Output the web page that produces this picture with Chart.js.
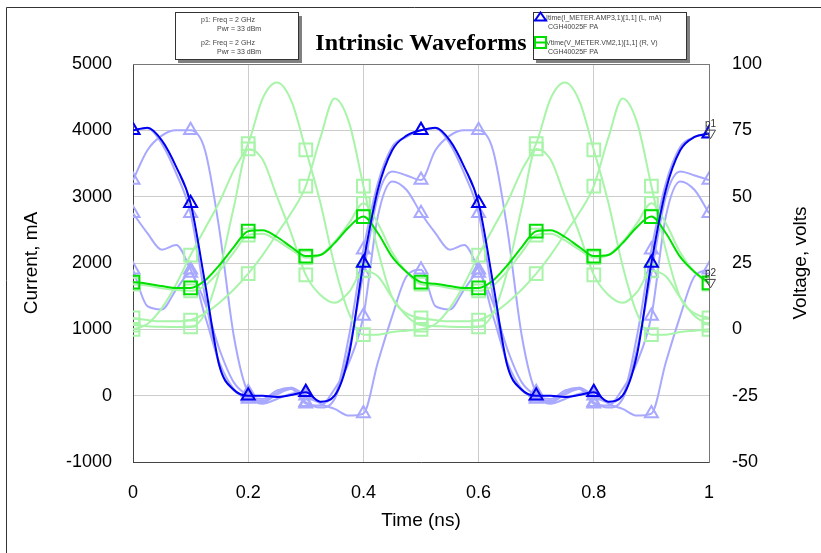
<!DOCTYPE html>
<html>
<head>
<meta charset="utf-8">
<script src="https://cdn.jsdelivr.net/npm/chart.js@4.4.1/dist/chart.umd.min.js"></script>
<style>
  html, body { margin: 0; padding: 0; background: #fff; }
  #wrap { position: relative; width: 821px; height: 553px; }
</style>
</head>
<body>
<div id="wrap"><canvas id="waveChart" width="821" height="553"></canvas></div>
<script>
// Time samples (ns), one every 0.025 ns; markers sit on every 4th sample
const timeNs = [0, 0.025, 0.05, 0.075, 0.1, 0.125, 0.15, 0.175, 0.2, 0.225, 0.25, 0.275, 0.3, 0.325, 0.35, 0.375, 0.4, 0.425, 0.45, 0.475, 0.5,
                0.525, 0.55, 0.575, 0.6, 0.625, 0.65, 0.675, 0.7, 0.725, 0.75, 0.775, 0.8, 0.825, 0.85, 0.875, 0.9, 0.925, 0.95, 0.975, 1];

// Drain current, mA (p1)
const currentMain = [4000, 4040, 3850, 3450, 2900, 1700, 450, 90, 0, 0, -20, 10, 50, -90, 0, 620, 2000, 3100, 3700, 3920, 4000,
                     4040, 3850, 3450, 2900, 1700, 450, 90, 0, 0, -20, 10, 50, -90, 0, 620, 2000, 3100, 3700, 3900, 3950];
// Drain voltage, V (p2)
const voltageMain = [17.8, 17.2, 16.3, 15.6, 15.6, 18.4, 24.2, 31, 37, 37.3, 34.8, 31, 27.6, 28, 32.5, 38.6, 42.5, 36.3, 27.3, 21.6, 17.8,
                     17.2, 16.3, 15.6, 15.6, 18.4, 24.2, 31, 37, 37.3, 34.8, 31, 27.6, 28, 32.5, 38.6, 42.5, 36.3, 27.3, 21.6, 17.5];

// Other sweep points, current (mA)
const currentSweepA = [3250, 3700, 3920, 4000, 4000, 3700, 2500, 900, 50, -80, 50, 120, -100, -180, -50, 700, 1850, 3000, 3380, 3320, 3250,
                       3700, 3920, 4000, 4000, 3700, 2500, 900, 50, -80, 50, 120, -100, -180, -50, 700, 1850, 3000, 3380, 3320, 3250];
const currentSweepB = [2750, 2450, 2200, 2270, 1900, 1400, 700, 200, 0, -100, 20, 100, -120, -150, 100, 500, 1200, 2700, 3230, 3100, 2750,
                       2450, 2200, 2270, 1900, 1400, 700, 200, 0, -100, 20, 100, -120, -150, 100, 500, 1200, 2700, 3230, 3100, 2750];
const currentSweepC = [4000, 4030, 3800, 3350, 2750, 1500, 450, 80, -20, -50, 80, 120, 0, -100, 0, 900, 2200, 3200, 3750, 3900, 4000,
                       4030, 3800, 3350, 2750, 1500, 450, 80, -20, -50, 80, 120, 0, -100, 0, 900, 2200, 3200, 3750, 3900, 3960];
const currentSweepD = [1900, 1350, 1300, 1600, 1850, 1200, 500, 100, -50, -120, -50, 30, 50, -120, -200, -300, -270, 500, 1200, 1800, 1900,
                       1350, 1300, 1600, 1850, 1200, 500, 100, -50, -120, -50, 30, 50, -120, -200, -300, -270, 500, 1200, 1800, 1900];

// Other sweep points, voltage (V)
const voltageSweepA = [17, 16.5, 15.5, 14.8, 14.5, 16.5, 22, 29, 35.5, 36, 33.5, 30, 27, 28, 33, 40, 47.5, 40, 29, 21.5, 17,
                       16.5, 15.5, 14.8, 14.5, 16.5, 22, 29, 35.5, 36, 33.5, 30, 27, 28, 33, 40, 47.5, 40, 29, 21.5, 17];
const voltageSweepB = [0, 2, 8, 17, 28, 38, 48, 60, 70, 87, 93, 86, 67.6, 48, 24, 6, -2, -2, -1, -0.5, 0,
                       2, 8, 17, 28, 38, 48, 60, 70, 87, 93, 86, 67.6, 48, 24, 6, -2, -2, -1, -0.5, 0];
const voltageSweepC = [4.3, 3.5, 3, 3, 3.5, 6, 10, 15, 21, 28, 36, 44, 54, 72, 87, 78, 54, 30, 12, 6, 4.3,
                       3.5, 3, 3, 3.5, 6, 10, 15, 21, 28, 36, 44, 54, 72, 87, 78, 54, 30, 12, 6, 4.3];
const voltageSweepD = [1.6, 1.2, 1, 0.9, 0.9, 6, 22, 46, 68, 64, 50, 36, 20.5, 13, 10, 14, 22, 20, 12, 5, 1.6,
                       1.2, 1, 0.9, 0.9, 6, 22, 46, 68, 64, 50, 36, 20.5, 13, 10, 14, 22, 20, 12, 5, 1.6];

const timeTicks = [0, 0.2, 0.4, 0.6, 0.8, 1];
const currentTicks = [-1000, 0, 1000, 2000, 3000, 4000, 5000];
const voltageTicks = [-50, -25, 0, 25, 50, 75, 100];

const BLUE = '#0000f0';
const GREEN = '#00e000';
const LIGHT_BLUE = '#a8a8ff';
const LIGHT_GREEN = '#a8f4a8';
const FONT = '"Liberation Sans", Arial, sans-serif';

function toPoints(values) {
    return values.map((v, i) => ({ x: timeNs[i], y: v }));
}

// marker only every 0.1 ns
function markerRadius(r) {
    return ctx => (ctx.dataIndex % 4 === 0 ? r : 0);
}

function series(values, axis, color, style, order) {
    return {
        data: toPoints(values),
        yAxisID: axis,
        borderColor: color,
        backgroundColor: 'transparent',
        borderWidth: 2,
        pointStyle: style,
        pointRadius: markerRadius(style === 'rect' ? 9 : 7.5),
        pointBorderWidth: 2,
        pointBorderColor: color,
        pointBackgroundColor: 'transparent',
        cubicInterpolationMode: 'monotone',
        fill: false,
        order: order,
    };
}

// Frame, legend boxes, title, axis titles and p1/p2 end markers
const decorations = {
    id: 'decorations',
    afterDraw(chart) {
        const c = chart.ctx;
        const area = chart.chartArea;
        c.save();

        // outer frame
        c.strokeStyle = '#333';
        c.lineWidth = 1;
        c.beginPath();
        c.moveTo(6.5, 560);
        c.lineTo(6.5, 7.5);
        c.lineTo(830, 7.5);
        c.stroke();

        // top edge of the plot
        c.strokeStyle = '#777';
        c.beginPath();
        c.moveTo(area.left, area.top + 0.5);
        c.lineTo(area.right, area.top + 0.5);
        c.stroke();

        // boxes with drop shadow
        function box(x0, y0, x1, y1) {
            c.fillStyle = '#808080';
            c.fillRect(x0 + 3, y0 + 4, x1 - x0 + 1, y1 - y0);
            c.fillStyle = '#fff';
            c.fillRect(x0, y0, x1 - x0, y1 - y0);
            c.strokeStyle = '#333';
            c.lineWidth = 1;
            c.strokeRect(x0 + 0.5, y0 + 0.5, x1 - x0, y1 - y0);
        }
        box(175, 12, 298, 59);
        box(533, 12, 686, 59);

        c.fillStyle = '#444';
        c.font = '7px ' + FONT;
        c.textBaseline = 'middle';
        c.textAlign = 'left';
        c.fillText('p1: Freq = 2 GHz', 201, 20);
        c.fillText('Pwr = 33 dBm', 217, 29);
        c.fillText('p2: Freq = 2 GHz', 201, 43);
        c.fillText('Pwr = 33 dBm', 217, 52);

        c.fillText('Itime(I_METER.AMP3,1)[1,1] (L, mA)', 546, 18);
        c.fillText('CGH40025F PA', 548, 27);
        c.fillText('Vtime(V_METER.VM2,1)[1,1] (R, V)', 546, 43);
        c.fillText('CGH40025F PA', 548, 52);

        // legend icons
        c.lineWidth = 2;
        c.strokeStyle = BLUE;
        c.beginPath();
        c.moveTo(534, 20.5);
        c.lineTo(547, 20.5);
        c.moveTo(540.5, 12.5);
        c.lineTo(546, 20.5);
        c.lineTo(535, 20.5);
        c.closePath();
        c.stroke();
        c.strokeStyle = GREEN;
        c.beginPath();
        c.rect(535, 37, 11, 11);
        c.moveTo(535, 42.5);
        c.lineTo(546, 42.5);
        c.stroke();

        // title
        c.fillStyle = '#000';
        c.font = 'bold 24px "Liberation Serif", "Times New Roman", serif';
        c.textAlign = 'center';
        c.textBaseline = 'alphabetic';
        c.fillText('Intrinsic Waveforms', 421, 50);

        // axis titles
        c.font = '19px ' + FONT;
        c.textBaseline = 'middle';
        c.fillText('Time (ns)', 421, 521);
        c.save();
        c.translate(32, 263);
        c.rotate(-Math.PI / 2);
        c.fillText('Current, mA', 0, 0);
        c.restore();
        c.save();
        c.translate(801, 263);
        c.rotate(-Math.PI / 2);
        c.fillText('Voltage, volts', 0, 0);
        c.restore();

        // p1 / p2 markers at the end of the main traces
        const xs = chart.scales.x;
        const ends = [
            { name: 'p1', y: chart.scales.y.getPixelForValue(currentMain[currentMain.length - 1]) },
            { name: 'p2', y: chart.scales.y2.getPixelForValue(voltageMain[voltageMain.length - 1]) },
        ];
        const px = xs.getPixelForValue(1);
        c.font = '10px ' + FONT;
        c.textAlign = 'left';
        c.textBaseline = 'alphabetic';
        ends.forEach(e => {
            c.fillStyle = '#333';
            c.fillText(e.name, px - 4, e.y - 7);
            c.strokeStyle = '#444';
            c.lineWidth = 1;
            c.beginPath();
            c.moveTo(px - 3.5, e.y - 3.5);
            c.lineTo(px + 6.5, e.y - 3.5);
            c.lineTo(px + 1.5, e.y + 5);
            c.closePath();
            c.stroke();
        });

        c.restore();
    },
};

const ctx = document.getElementById('waveChart').getContext('2d');

new Chart(ctx, {
    type: 'line',
    data: {
        datasets: [
            series(currentMain, 'y', BLUE, 'triangle', 0),
            series(voltageMain, 'y2', GREEN, 'rect', 1),
            series(voltageSweepA, 'y2', LIGHT_GREEN, 'rect', 2),
            series(voltageSweepB, 'y2', LIGHT_GREEN, 'rect', 2),
            series(voltageSweepC, 'y2', LIGHT_GREEN, 'rect', 2),
            series(voltageSweepD, 'y2', LIGHT_GREEN, 'rect', 2),
            series(currentSweepA, 'y', LIGHT_BLUE, 'triangle', 3),
            series(currentSweepB, 'y', LIGHT_BLUE, 'triangle', 3),
            series(currentSweepC, 'y', LIGHT_BLUE, 'triangle', 3),
            series(currentSweepD, 'y', LIGHT_BLUE, 'triangle', 3),
        ],
    },
    options: {
        responsive: false,
        animation: false,
        devicePixelRatio: 1,
        events: [],
        layout: { padding: { top: 64, left: 0, right: 0, bottom: 0 } },
        plugins: {
            legend: { display: false },
            title: { display: false },
            tooltip: { enabled: false },
        },
        scales: {
            x: {
                type: 'linear',
                min: 0,
                max: 1,
                afterFit: scale => { scale.height = 91; },
                afterBuildTicks: scale => { scale.ticks = timeTicks.map(v => ({ value: v })); },
                ticks: {
                    maxRotation: 0,
                    autoSkip: false,
                    padding: 20,
                    color: '#000',
                    font: { family: FONT, size: 18 },
                    callback: v => String(v),
                },
                grid: { color: '#cccccc', drawTicks: false },
                border: { color: '#444', width: 1 },
            },
            y: {
                position: 'left',
                min: currentTicks[0],
                max: currentTicks[currentTicks.length - 1],
                afterFit: scale => { scale.width = 133; },
                afterBuildTicks: scale => { scale.ticks = currentTicks.map(v => ({ value: v })); },
                ticks: {
                    padding: 21,
                    color: '#000',
                    font: { family: FONT, size: 18 },
                    callback: v => String(v),
                },
                grid: { color: '#cccccc', drawTicks: false },
                border: { color: '#444', width: 1 },
            },
            y2: {
                position: 'right',
                min: voltageTicks[0],
                max: voltageTicks[voltageTicks.length - 1],
                afterFit: scale => { scale.width = 112; },
                afterBuildTicks: scale => { scale.ticks = voltageTicks.map(v => ({ value: v })); },
                ticks: {
                    padding: 23,
                    color: '#000',
                    font: { family: FONT, size: 18 },
                    callback: v => String(v),
                },
                grid: { drawOnChartArea: false, drawTicks: false },
                border: { color: '#777', width: 1 },
            },
        },
    },
    plugins: [decorations],
});
</script>
</body>
</html>
